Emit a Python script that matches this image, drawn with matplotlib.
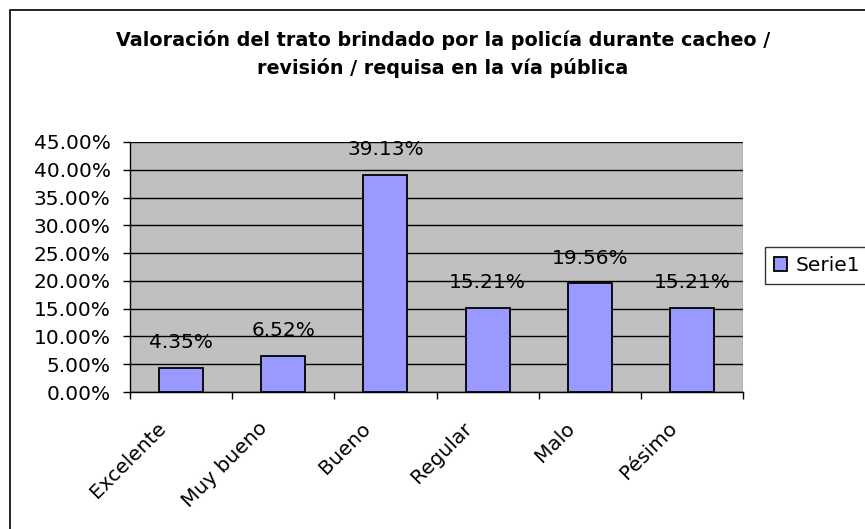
import matplotlib.pyplot as plt
import numpy as np
from matplotlib.patches import Rectangle
from matplotlib.transforms import ScaledTranslation

categories = ['Excelente', 'Muy bueno', 'Bueno', 'Regular', 'Malo', 'Pésimo']
values = [4.35, 6.52, 39.13, 15.21, 19.56, 15.21]
labels = ['4.35%', '6.52%', '39.13%', '15.21%', '19.56%', '15.21%']
yticks = [0, 5, 10, 15, 20, 25, 30, 35, 40, 45]

plt.rcParams['font.family'] = ['DejaVu Sans']

W, H = 865, 529
fig = plt.figure(figsize=(W / 100, H / 100), dpi=100)

# plot area in pixels
left, right, top, bottom = 130, 743, 142, 392
ax = fig.add_axes([left / W, 1 - bottom / H, (right - left) / W, (bottom - top) / H])
ax.set_facecolor('#C0C0C0')

x = np.arange(len(categories))
ax.bar(x, values, width=0.43, color='#9999FF', edgecolor='black', linewidth=1.3,
       label='Serie1', zorder=3)

for xi, v, lab in zip(x, values, labels):
    ax.annotate(lab, (xi, v), xytext=(0, 18), textcoords='offset points',
                ha='center', va='center', fontsize=14.5, zorder=4)

ax.set_xlim(-0.5, len(categories) - 0.5)
ax.set_ylim(0, 45)
ax.set_yticks(yticks)
ax.set_yticklabels([f'{t:.2f}%' for t in yticks], fontsize=14.5)
ax.yaxis.grid(True, color='black', linewidth=1, zorder=0)
ax.set_axisbelow(True)

ax.set_xticks(np.arange(-0.5, len(categories), 1))
ax.set_xticklabels([])
ax.set_xticks(x, minor=True)
ax.set_xticklabels(categories, minor=True, rotation=45, ha='right',
                   rotation_mode='anchor', fontsize=14.5)
ax.tick_params(axis='x', which='minor', length=0, pad=19)
ax.tick_params(axis='x', which='major', length=5, width=1, color='black')
ax.tick_params(axis='y', length=5, width=1, color='black', pad=9)
shift = ScaledTranslation(-18 / 72, 0, fig.dpi_scale_trans)
for lab in ax.get_xticklabels(minor=True):
    lab.set_transform(lab.get_transform() + shift)

for s in ['top', 'right']:
    ax.spines[s].set_visible(False)
for s in ['left', 'bottom']:
    ax.spines[s].set_color('black')
    ax.spines[s].set_linewidth(1)

# right edge of the plot area
ax.axvline(len(categories) - 0.5, color='#808080', linewidth=1, zorder=1)

cx = 443 / W
fig.text(cx, 1 - 40 / H,
         'Valoración del trato brindado por la policía durante cacheo /',
         ha='center', va='center', fontsize=13.75, fontweight='bold')
fig.text(cx, 1 - 68 / H,
         'revisión / requisa en la vía pública',
         ha='center', va='center', fontsize=13.75, fontweight='bold')

leg = ax.legend(loc='center left', bbox_to_anchor=(765 / W, 1 - 265.5 / H),
                bbox_transform=fig.transFigure, fontsize=14.5, frameon=True,
                fancybox=False, handlelength=0.65, handleheight=0.65,
                handletextpad=0.4, borderpad=0.45, borderaxespad=0)
leg.get_frame().set_edgecolor('black')
leg.get_frame().set_linewidth(1)

# chart border, running off the right and bottom edges as in the source
fig.patches.append(Rectangle((10 / W, -20 / H), 880 / W, (H - 10 + 20) / H,
                             transform=fig.transFigure, fill=False,
                             edgecolor='black', linewidth=1.2))

plt.savefig('out.png', dpi=100)
